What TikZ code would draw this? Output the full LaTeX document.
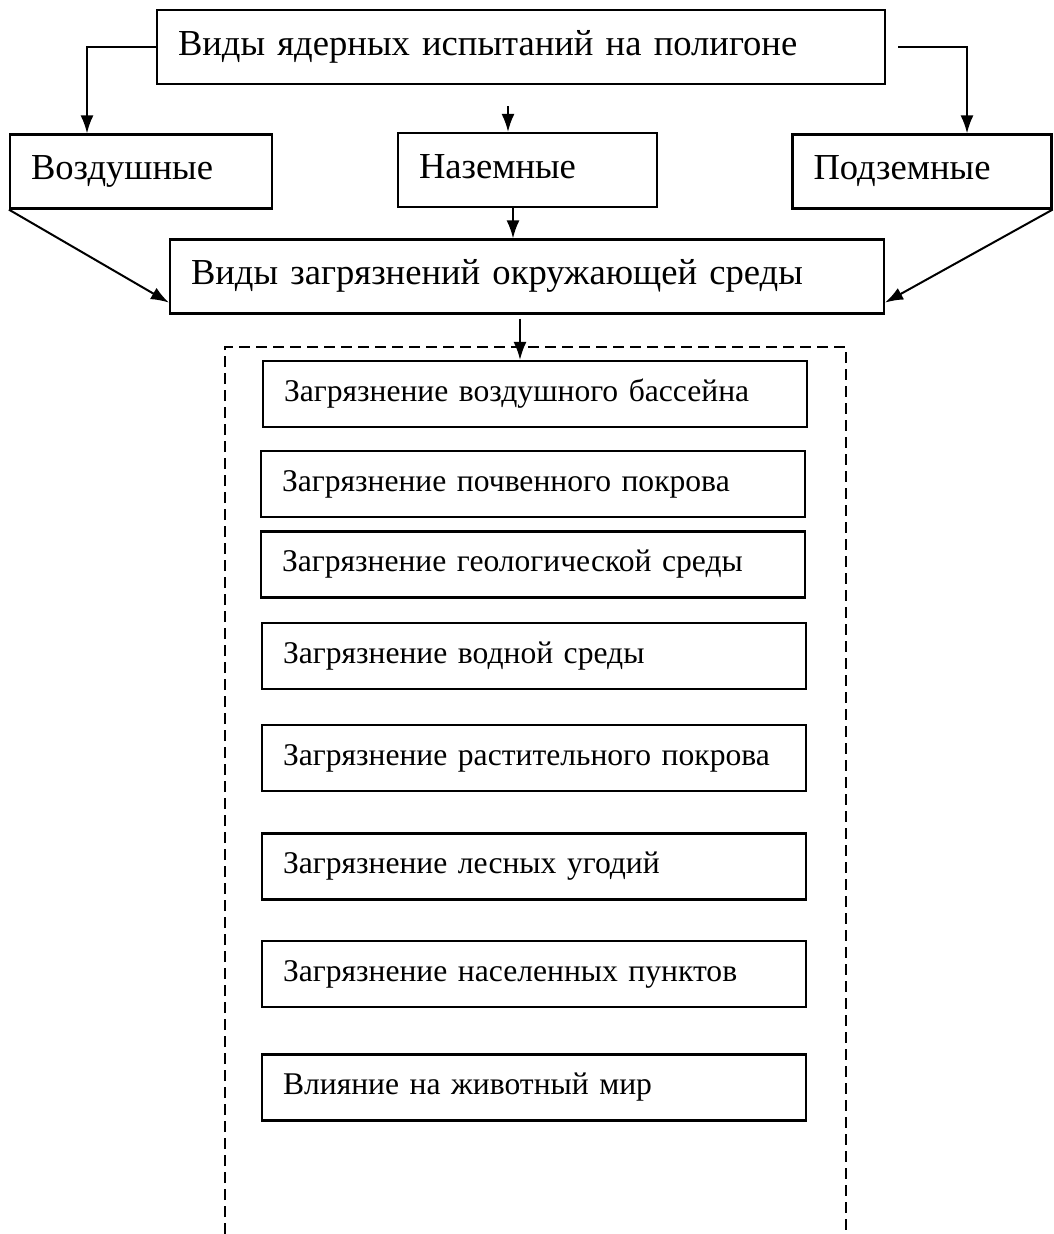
\documentclass[tikz,border=0pt]{standalone}
\usepackage{fontspec}
\setmainfont{Liberation Serif}
\usetikzlibrary{arrows.meta,calc}

\tikzset{
  box/.style={draw,line width=2.2pt,inner xsep=21pt,inner ysep=0pt,align=left,
    execute at begin node=\strut},
  big/.style={box,minimum height=74pt,font=\fontsize{36.6}{42}\selectfont},
  item/.style={box,minimum height=66pt,text width=502pt,font=\fontsize{31.6}{36}\selectfont},
  arr/.style={line width=2pt,-{Latex[length=18pt,width=13pt]}},
  frame/.style={line width=1.8pt,dash pattern=on 11pt off 6pt}
}

\begin{document}
\begin{tikzpicture}[x=1pt,y=-1pt]
  \useasboundingbox (0,0) rectangle (1053,1234);

  % top levels
  \node [big,text width=686pt] (top) at (521,47) {Виды ядерных испытаний на полигоне};
  \node [big,text width=220pt] (vozd) at (141,171.5) {Воздушные};
  \node [big,text width=217pt] (nazem) at (527.5,170) {Наземные};
  \node [big,text width=217pt] (podz) at (922,171.5) {Подземные};
  \node [big,text width=672pt] (env) at (527,276.5) {Виды загрязнений окружающей среды};

  % kinds of pollution
  \node [item] (air) at (535,394) {Загрязнение воздушного бассейна};
  \node [item] (soil) at (533,484) {Загрязнение почвенного покрова};
  \node [item] (geo) at (533,564.5) {Загрязнение геологической среды};
  \node [item] (water) at (534,656) {Загрязнение водной среды};
  \node [item] (plant) at (534,758) {Загрязнение растительного покрова};
  \node [item] (forest) at (534,866.5) {Загрязнение лесных угодий};
  \node [item] (town) at (534,974) {Загрязнение населенных пунктов};
  \node [item] (fauna) at (534,1087.5) {Влияние на животный мир};

  \coordinate (lturn) at (87,47);
  \coordinate (rstart) at (898,47);
  \coordinate (rturn) at (967,47);
  \coordinate (mtop) at (508,106);
  \coordinate (m2) at (513,0);
  \coordinate (m3) at (520,0);

  \draw [arr] (top.west) -- (lturn) -- (lturn |- vozd.north);
  \draw [arr] (rstart) -- (rturn) -- (rturn |- podz.north);
  \draw [arr] (mtop) -- (mtop |- nazem.north);
  \draw [arr] (nazem.south -| m2) -- (m2 |- env.north);
  \draw [arr] (vozd.south west) -- ($(env.south west)+(0,-12)$);
  \draw [arr] (podz.south east) -- ($(env.south east)+(0,-12)$);
  \draw [arr] ($(env.south -| m3)+(0,4)$) -- (m3 |- air.north);

  % dashed frame, open at the bottom
  \draw [frame] (225,1234) -- (225,347) -- (846,347) -- (846,1234);
\end{tikzpicture}
\end{document}
